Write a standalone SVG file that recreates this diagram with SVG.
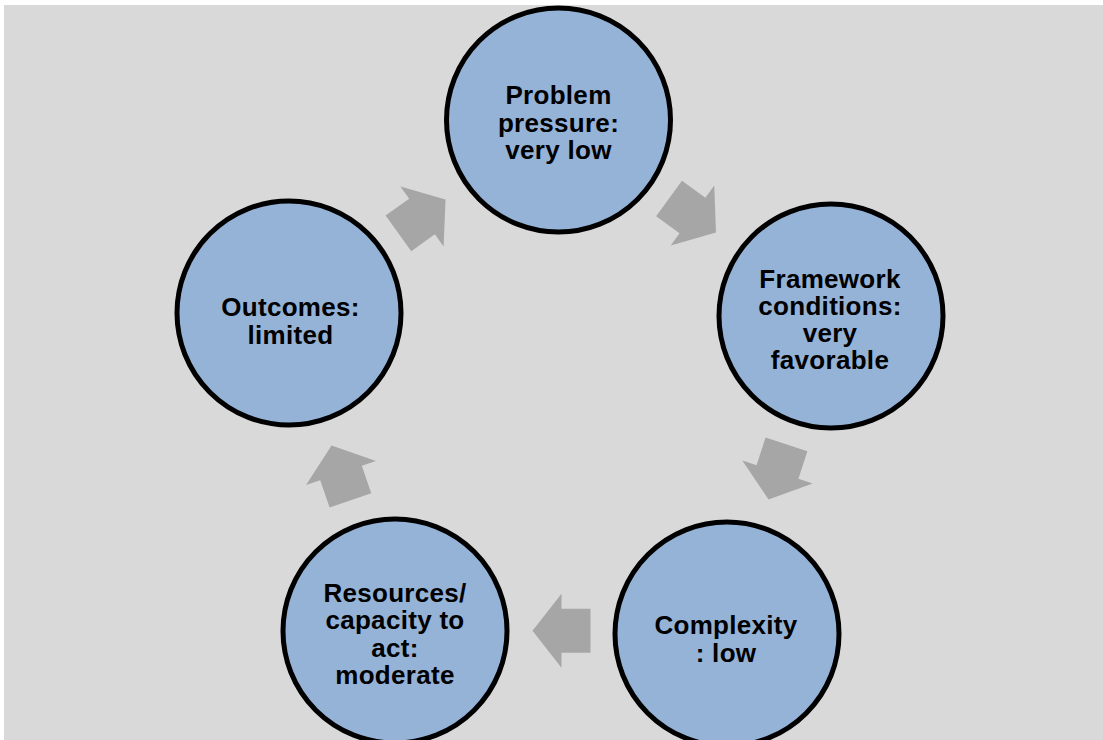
<svg xmlns="http://www.w3.org/2000/svg" width="1103" height="740" viewBox="0 0 1103 740">
<defs>
<style>
.node{fill:#95B3D7;stroke:#000;stroke-width:5}
.lbl{font-family:"Liberation Sans",Arial,sans-serif;font-weight:bold;font-size:26px;letter-spacing:0.3px;fill:#000;text-anchor:middle}
.arr{fill:#A6A6A6}
</style>
<path id="arrowShape" d="M29,0 L0,-37 L0,-22 L-29,-22 L-29,22 L0,22 L0,37 Z"/>
</defs>
<rect x="0" y="0" width="1103" height="740" fill="#fff"/>
<rect x="4" y="5" width="1099" height="735" fill="#D9D9D9"/>
<g id="connectors">
<use href="#arrowShape" class="arr" transform="translate(422,216.5) rotate(-35.7)"/>
<use href="#arrowShape" class="arr" transform="translate(692.5,215.5) rotate(36)"/>
<use href="#arrowShape" class="arr" transform="translate(777.5,472) rotate(108)"/>
<use href="#arrowShape" class="arr" transform="translate(561.5,630.7) rotate(180)"/>
<use href="#arrowShape" class="arr" transform="translate(341,473) rotate(-109)"/>
</g>
<g id="node-problem">
<circle class="node" cx="558.5" cy="120" r="112"/>
<text class="lbl"><tspan x="558.5" y="104">Problem</tspan><tspan x="558.5" y="131.5">pressure:</tspan><tspan x="558.5" y="159">very low</tspan></text>
</g>
<g id="node-framework">
<circle class="node" cx="831" cy="316" r="112"/>
<text class="lbl"><tspan x="830" y="288">Framework</tspan><tspan x="830" y="315">conditions:</tspan><tspan x="830" y="342">very</tspan><tspan x="830" y="369">favorable</tspan></text>
</g>
<g id="node-complexity">
<circle class="node" cx="727" cy="634" r="112"/>
<text class="lbl"><tspan x="726" y="634">Complexity</tspan><tspan x="726" y="661.5">: low</tspan></text>
</g>
<g id="node-resources">
<circle class="node" cx="395" cy="631" r="112"/>
<text class="lbl"><tspan x="395" y="602">Resources/</tspan><tspan x="395" y="629">capacity to</tspan><tspan x="395" y="656.5">act:</tspan><tspan x="395" y="684">moderate</tspan></text>
</g>
<g id="node-outcomes">
<circle class="node" cx="289" cy="313" r="112"/>
<text class="lbl"><tspan x="290.5" y="316">Outcomes:</tspan><tspan x="290.5" y="343.5">limited</tspan></text>
</g>
</svg>
